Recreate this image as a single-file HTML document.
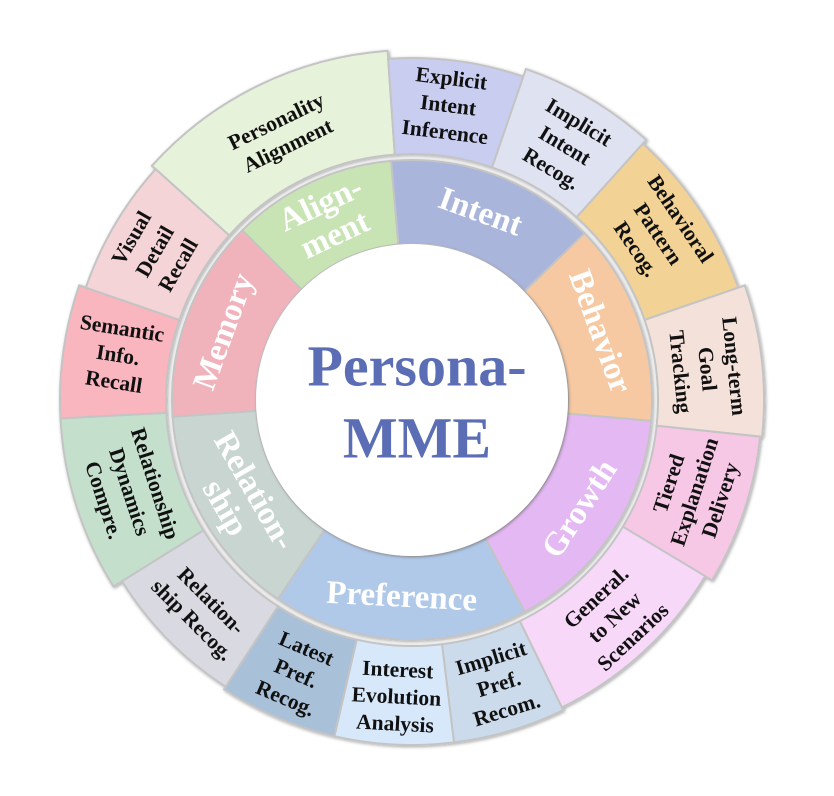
<!DOCTYPE html>
<html><head><meta charset="utf-8"><style>
html,body{margin:0;padding:0;background:#fff}
svg{display:block}
text{font-family:"Liberation Serif",serif;font-weight:bold;text-anchor:middle;dominant-baseline:central}
.o{font-size:21.5px;fill:#111}
.i{font-size:33px;fill:#fff}
</style></head><body>
<svg id="s" width="834" height="796" viewBox="0 0 834 796">
<defs><filter id="sh" x="-10%" y="-10%" width="120%" height="120%"><feDropShadow dx="1" dy="1" stdDeviation="1.5" flood-color="#000" flood-opacity="0.35"/></filter></defs>
<g id="w" filter="url(#sh)"></g>
<circle cx="412" cy="400" r="156" fill="#fff" filter="url(#sh)"/>
<text x="417" y="366" style="font-size:58px;fill:#5b6db4">Persona-</text>
<text x="417" y="438" style="font-size:58px;fill:#5b6db4">MME</text>

<!-- inner labels -->
<g transform="rotate(335 412 400)"><text class="i" x="412" y="184">Align-</text><text class="i" x="412" y="218">ment</text></g>
<g transform="rotate(20 412 400)"><text class="i" x="412" y="200">Intent</text></g>
<g transform="rotate(70 412 400)"><text class="i" x="412" y="200">Behavior</text></g>
<g transform="rotate(-57 412 400)"><text class="i" x="412" y="600">Growth</text></g>
<g transform="rotate(3 412 400)"><text class="i" x="412" y="597">Preference</text></g>
<g transform="rotate(60 412 400)"><text class="i" x="412" y="582">Relation-</text><text class="i" x="412" y="616">ship</text></g>
<g transform="rotate(-70 412 400)"><text class="i" x="412" y="200">Memory</text></g>

<!-- outer labels -->
<g transform="rotate(334 412 400)"><text class="o" x="412" y="90">Personality</text><text class="o" x="412" y="117">Alignment</text></g>
<g transform="rotate(7 412 400)"><text class="o" x="412" y="76">Explicit</text><text class="o" x="412" y="103">Intent</text><text class="o" x="412" y="130">Inference</text></g>
<g transform="rotate(31 412 400)"><text class="o" x="412" y="76">Implicit</text><text class="o" x="412" y="103">Intent</text><text class="o" x="412" y="130">Recog.</text></g>
<g transform="rotate(56 412 400)"><text class="o" x="412" y="76">Behavioral</text><text class="o" x="412" y="103">Pattern</text><text class="o" x="412" y="130">Recog.</text></g>
<g transform="rotate(84 412 400)"><text class="o" x="412" y="76">Long-term</text><text class="o" x="412" y="103">Goal</text><text class="o" x="412" y="130">Tracking</text></g>
<g transform="rotate(-72 412 400)"><text class="o" x="412" y="670">Tiered</text><text class="o" x="412" y="697">Explanation</text><text class="o" x="412" y="724">Delivery</text></g>
<g transform="rotate(-43 412 400)"><text class="o" x="412" y="670">General.</text><text class="o" x="412" y="697">to New</text><text class="o" x="412" y="724">Scenarios</text></g>
<g transform="rotate(-17 412 400)"><text class="o" x="412" y="670">Implicit</text><text class="o" x="412" y="697">Pref.</text><text class="o" x="412" y="724">Recom.</text></g>
<g transform="rotate(3 412 400)"><text class="o" x="412" y="670">Interest</text><text class="o" x="412" y="697">Evolution</text><text class="o" x="412" y="724">Analysis</text></g>
<g transform="rotate(23 412 400)"><text class="o" x="412" y="670">Latest</text><text class="o" x="412" y="697">Pref.</text><text class="o" x="412" y="724">Recog.</text></g>
<g transform="rotate(45 412 400)"><text class="o" x="412" y="684">Relation-</text><text class="o" x="412" y="711">ship Recog.</text></g>
<g transform="rotate(72 412 400)"><text class="o" x="412" y="670">Relationship</text><text class="o" x="412" y="697">Dynamics</text><text class="o" x="412" y="724">Compre.</text></g>
<g transform="rotate(9 118 355)"><text class="o" x="118" y="328">Semantic</text><text class="o" x="118" y="355">Info.</text><text class="o" x="118" y="382">Recall</text></g>
<g transform="rotate(-60 412 400)"><text class="o" x="412" y="76">Visual</text><text class="o" x="412" y="103">Detail</text><text class="o" x="412" y="130">Recall</text></g>
</svg>
<script>
(function(){
var cx=412,cy=400,g=document.getElementById('w');
function p(r,a){a=a*Math.PI/180;return (cx+r*Math.sin(a)).toFixed(1)+' '+(cy-r*Math.cos(a)).toFixed(1);}
function wedge(r0,r1,a0,a1,c){
 var l=(a1-a0)>180?1:0;
 var d='M'+p(r0,a0)+' L'+p(r1,a0)+' A'+r1+' '+r1+' 0 '+l+' 1 '+p(r1,a1)+' L'+p(r0,a1)+' A'+r0+' '+r0+' 0 '+l+' 0 '+p(r0,a0)+'Z';
 var e=document.createElementNS('http://www.w3.org/2000/svg','path');
 e.setAttribute('d',d);e.setAttribute('fill',c);e.setAttribute('stroke','#c4c4c4');e.setAttribute('stroke-width','2');
 g.appendChild(e);
}
var inner=[[-45,-5,'#c9e4b4'],[-5,46,'#aab5dc'],[46,95,'#f7c9a3'],[95,152,'#e4b8f3'],[152,214,'#b1c9e9'],[214,266,'#c9d5d1'],[266,315,'#f1b3bb']];
inner.forEach(function(s){wedge(156,240,s[0],s[1],s[2]);});
var outer=[[-48,-4,'#e6f2da',350],[-4,19,'#c9cdef',342],[19,42,'#dfe2f1',350],[42,71,'#f2d295',345],[71,96,'#f4e1da',352],[96,121,'#f6c8e6',350],[121,154,'#f7d8f9',342],[154,173,'#cbdbeb',345],[173,193,'#d8e8fb',345],[193,213,'#a9c0d9',345],[213,238,'#d9d9e2',342],[238,267,'#c4e0cd',352],[267,289,'#f9b6bf',352],[289,312,'#f4d4d7',345]];
outer.forEach(function(s){wedge(246,s[3],s[0],s[1],s[2]);});
})();
</script>
</body></html>
